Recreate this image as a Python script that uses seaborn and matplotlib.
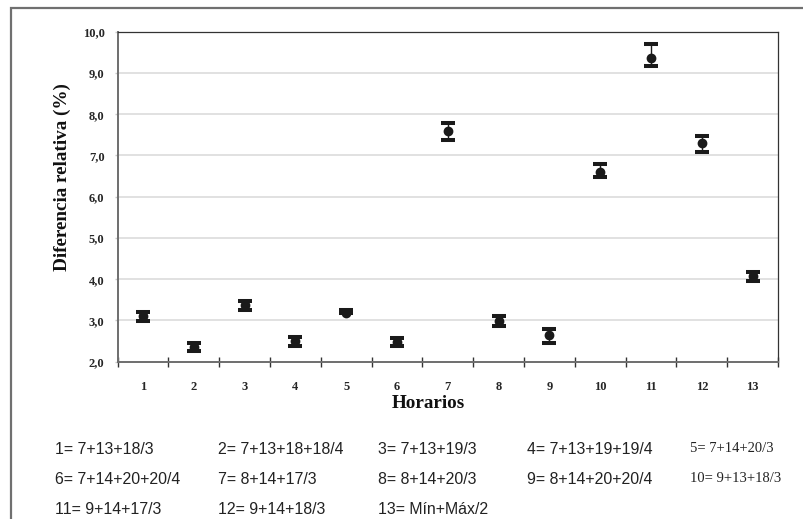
import numpy as np
import pandas as pd
import matplotlib
matplotlib.use("Agg")
import matplotlib.pyplot as plt
import seaborn as sns
from matplotlib.patches import Rectangle
from matplotlib.ticker import FixedLocator, FixedFormatter

# ---------------- data ----------------
categories = ["1", "2", "3", "4", "5", "6", "7", "8", "9", "10", "11", "12", "13"]
values = [3.10, 2.35, 3.37, 2.49, 3.19, 2.48, 7.60, 2.98, 2.65, 6.60, 9.36, 7.30, 4.07]
err_low = [0.11, 0.10, 0.11, 0.10, 0.02, 0.10, 0.23, 0.12, 0.19, 0.13, 0.19, 0.21, 0.11]
err_high = [0.11, 0.10, 0.11, 0.10, 0.07, 0.10, 0.19, 0.12, 0.15, 0.19, 0.35, 0.17, 0.11]
ytick_values = [2, 3, 4, 5, 6, 7, 8, 9, 10]
ytick_labels = ["2,0", "3,0", "4,0", "5,0", "6,0", "7,0", "8,0", "9,0", "10,0"]
legend_labels = [
    ["1= 7+13+18/3", "2= 7+13+18+18/4", "3= 7+13+19/3", "4= 7+13+19+19/4", "5= 7+14+20/3"],
    ["6= 7+14+20+20/4", "7= 8+14+17/3", "8= 8+14+20/3", "9= 8+14+20+20/4", "10= 9+13+18/3"],
    ["11= 9+14+17/3", "12= 9+14+18/3", "13= Mín+Máx/2"],
]
serif_items = {"5= 7+14+20/3", "10= 9+13+18/3"}
xlabel = "Horarios"
ylabel = "Diferencia relativa (%)"

df = pd.DataFrame({"Horario": categories, "Valor": values})

sns.set_theme(style="white")
plt.rcParams["font.family"] = ["Liberation Serif", "DejaVu Serif"]

W, H = 804, 519
fig = plt.figure(figsize=(W / 100, H / 100), dpi=100)
ax = fig.add_axes([117.7 / W, 1 - 361.7 / H, (778 - 117.7) / W, (361.7 - 31.7) / H])

for yv in ytick_values[1:-1]:
    ax.axhline(yv, color="#d9d9d9", lw=1.1, zorder=0)

sns.pointplot(data=df, x="Horario", y="Valor", order=categories, linestyle="none",
              errorbar=None, color="#1a1a1a", markers="o", markersize=5, ax=ax, zorder=3)

xpos = np.arange(len(categories))
ax.errorbar(xpos, values, yerr=[err_low, err_high], fmt="none", ecolor="#1a1a1a",
            elinewidth=1.0, capsize=4.7, capthick=2.9, zorder=2)

ax.set_xlim(-0.5, len(categories) - 0.5)
ax.set_ylim(2, 10)

ax.yaxis.set_major_locator(FixedLocator(ytick_values))
ax.yaxis.set_major_formatter(FixedFormatter(ytick_labels))
ax.tick_params(axis="y", which="major", direction="out", length=2.5, width=1.0,
               color="#c8c8c8", pad=7.0, labelsize=9, left=True)
for lab in ax.get_yticklabels():
    lab.set_fontweight("bold")

ax.set_xticks(xpos)
ax.set_xticklabels(categories)
ax.tick_params(axis="x", which="major", length=0, pad=14, labelsize=9)
for lab in ax.get_xticklabels():
    lab.set_fontweight("bold")
ax.set_xticks(np.arange(-0.5, len(categories)), minor=True)
ax.tick_params(axis="x", which="minor", direction="inout", length=7, width=1.0,
               color="#333333", bottom=True)

ax.set_xlabel("")
ax.set_ylabel("")

for side in ["left", "bottom"]:
    ax.spines[side].set_color("#6e6e6e")
    ax.spines[side].set_linewidth(1.4)
for side in ["top", "right"]:
    ax.spines[side].set_color("#333333")
    ax.spines[side].set_linewidth(0.9)
ax.spines["top"].set_visible(True)
ax.spines["right"].set_visible(True)

fig.text(428.5 / W, 1 - 403 / H, xlabel, ha="center", va="center",
         fontsize=13.8, fontweight="bold", color="#111111")
fig.text(62 / W, 1 - 177 / H, ylabel, ha="center", va="center", rotation=90,
         fontsize=13.8, fontweight="bold", color="#111111")

col_x = [55, 218, 378, 527, 690]
row_y = [449, 479, 510]
for r, row in enumerate(legend_labels):
    for c, txt in enumerate(row):
        if txt in serif_items:
            fig.text(col_x[c] / W, 1 - row_y[r] / H, txt, ha="left", va="center",
                     fontsize=10.5, family=["Liberation Serif", "DejaVu Serif"], color="#222222")
        else:
            fig.text(col_x[c] / W, 1 - row_y[r] / H, txt, ha="left", va="center",
                     fontsize=11.4, family=["Liberation Sans", "DejaVu Sans"], color="#222222")

fig.add_artist(Rectangle((11 / W, -0.1), 1.2, 1 - 8 / H + 0.1, transform=fig.transFigure,
                         fill=False, ec="#707070", lw=1.6))

fig.savefig("out.png", dpi=100)
